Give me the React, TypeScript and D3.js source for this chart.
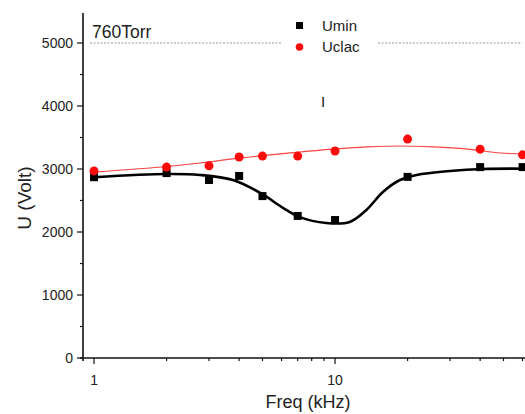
import React from "react";
import * as d3 from "d3";

const freqs = [1, 2, 3, 4, 5, 7, 10, 20, 40, 60];
const uminValues = [2870, 2935, 2825, 2890, 2570, 2255, 2190, 2875, 3030, 3030];
const uclacValues = [2970, 3030, 3050, 3190, 3205, 3205, 3285, 3475, 3315, 3225];

const uminFitFreqs = [1, 2, 2.75, 3.77, 4.9, 6.1, 7.1, 9.2, 11.5, 13.5, 15.8, 18.6, 21.8, 30, 41, 62];
const uminFitValues = [2870, 2920, 2905, 2825, 2620, 2380, 2240, 2143, 2160, 2350, 2635, 2825, 2905, 2968, 3000, 3005];

const uclacFitFreqs = [1, 2, 2.75, 3.77, 5.22, 7.16, 9.81, 13.6, 18.6, 25.5, 35.3, 48.4, 62];
const uclacFitValues = [2950, 3040, 3095, 3160, 3220, 3270, 3317, 3350, 3365, 3350, 3317, 3254, 3235];

const yTicks = [0, 1000, 2000, 3000, 4000, 5000];
const yMinorTicks = [500, 1500, 2500, 3500, 4500];
const xMajorTicks = [1, 10];
const xMinorTicks = [2, 3, 4, 5, 6, 7, 8, 9, 20, 30, 40, 50, 60];

const W = 525;
const H = 414;
const FONT = "'Liberation Sans', Arial, sans-serif";

export default function App() {
  const x = d3.scaleLog().domain([0.9, 62]).range([83, 526]);
  const y = d3.scaleLinear().domain([0, 5500]).range([358, 11.5]);
  const x0 = 83;
  const y0 = 358;

  const line = d3
    .line<[number, number]>()
    .x((d) => x(d[0]))
    .y((d) => y(d[1]))
    .curve(d3.curveCatmullRom.alpha(0.5));

  const uminFit = uminFitFreqs.map((f, i) => [f, uminFitValues[i]] as [number, number]);
  const uclacFit = uclacFitFreqs.map((f, i) => [f, uclacFitValues[i]] as [number, number]);

  const dotY = y(5000);

  return (
    <svg
      width={W}
      height={H}
      style={{ position: "absolute", left: 0, top: 0, background: "#fff" }}
      fontFamily={FONT}
    >
      <rect x={0} y={0} width={W} height={H} fill="#fff" />
      {/* dotted reference line at 5000 */}
      <line x1={90} x2={282} y1={dotY} y2={dotY} stroke="#999" strokeWidth={1} strokeDasharray="2,1.5" />
      <line x1={378} x2={522} y1={dotY} y2={dotY} stroke="#999" strokeWidth={1} strokeDasharray="2,1.5" />

      {/* fit curves */}
      <path d={line(uclacFit) || ""} fill="none" stroke="#ff4040" strokeWidth={1.2} />
      <path d={line(uminFit) || ""} fill="none" stroke="#000" strokeWidth={2.6} />

      {/* markers */}
      {freqs.map((f, i) => (
        <rect
          key={"s" + i}
          x={x(f) - 4}
          y={y(uminValues[i]) - 4}
          width={8}
          height={8}
          fill="#000"
        />
      ))}
      {freqs.map((f, i) => (
        <circle key={"c" + i} cx={x(f)} cy={y(uclacValues[i])} r={4.5} fill="#ff0a0a" />
      ))}

      {/* axes */}
      <line x1={x0} x2={x0} y1={13} y2={y0 + 3} stroke="#111" strokeWidth={1.6} />
      <line x1={x0 - 3} x2={526} y1={y0} y2={y0} stroke="#111" strokeWidth={1.6} />
      {yTicks.map((t) => (
        <g key={"yt" + t}>
          <line x1={x0 - 6} x2={x0} y1={y(t)} y2={y(t)} stroke="#111" strokeWidth={1.2} />
          <text x={x0 - 10} y={y(t) + 5} textAnchor="end" fontSize={14} fill="#222">
            {t}
          </text>
        </g>
      ))}
      {yMinorTicks.map((t) => (
        <line key={"ym" + t} x1={x0 - 3} x2={x0} y1={y(t)} y2={y(t)} stroke="#111" strokeWidth={1.2} />
      ))}
      {xMajorTicks.map((t) => (
        <g key={"xt" + t}>
          <line x1={x(t)} x2={x(t)} y1={y0} y2={y0 + 6} stroke="#111" strokeWidth={1.2} />
          <text x={x(t)} y={y0 + 27} textAnchor="middle" fontSize={14} fill="#222">
            {t}
          </text>
        </g>
      ))}
      {xMinorTicks.map((t) => (
        <line key={"xm" + t} x1={x(t)} x2={x(t)} y1={y0} y2={y0 + 3} stroke="#111" strokeWidth={1.2} />
      ))}

      {/* axis titles */}
      <text
        transform={`translate(31,198) rotate(-90)`}
        textAnchor="middle"
        fontSize={19}
        fill="#222"
      >
        U (Volt)
      </text>
      <text x={308} y={408} textAnchor="middle" fontSize={18} fill="#222">
        Freq (kHz)
      </text>

      {/* annotations */}
      <text x={92} y={38} fontSize={17.5} fill="#222">
        760Torr
      </text>
      <text x={321} y={107} fontSize={15} fill="#222">
        I
      </text>

      {/* legend */}
      <rect x={296} y={22} width={7} height={7} fill="#000" />
      <text x={322} y={31} fontSize={15} fill="#222">
        Umin
      </text>
      <circle cx={299.5} cy={47} r={3.8} fill="#ff0a0a" />
      <text x={322} y={52} fontSize={15} fill="#222">
        Uclac
      </text>
    </svg>
  );
}
